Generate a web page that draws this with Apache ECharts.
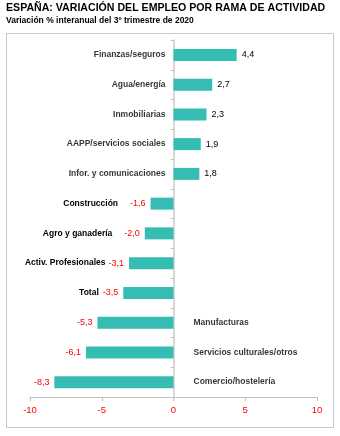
<!DOCTYPE html>
<html><head><meta charset="utf-8">
<script src="https://cdn.jsdelivr.net/npm/echarts@6/dist/echarts.min.js"></script>
<style>html,body{margin:0;padding:0;background:#fff}#c{width:340px;height:436px}</style>
</head><body><div id="c"></div>
<script>
const titleText = 'ESPAÑA: VARIACIÓN DEL EMPLEO POR RAMA DE ACTIVIDAD';
const subtitleText = 'Variación % interanual del 3º trimestre de 2020';
const categories = ['Finanzas/seguros','Agua/energía','Inmobiliarias','AAPP/servicios sociales','Infor. y comunicaciones','Construcción','Agro y ganadería','Activ. Profesionales','Total','Manufacturas','Servicios culturales/otros','Comercio/hostelería'];
const values = [4.4, 2.7, 2.3, 1.9, 1.8, -1.6, -2.0, -3.1, -3.5, -5.3, -6.1, -8.3];
// where the category name sits: 'axisLeft' (left of zero line), 'beforeValue' (left of the negative value label), 'axisRight'
const namePlacement = ['axisLeft','axisLeft','axisLeft','axisLeft','axisLeft','beforeValue','beforeValue','beforeValue','beforeValue','axisRight','axisRight','axisRight'];
const nameGap = [0,0,0,0,0,12,12,3,4,0,0,0];
const xTicks = [-10, -5, 0, 5, 10];

const fmt = v => v.toFixed(1).replace('.', ',');
const FONT = 'Liberation Sans, Arial, sans-serif';

const barData = values.map((v, i) => {
  const neg = v < 0;
  const item = { value: v, label: { show: true, position: neg ? 'left' : 'right', distance: 5 } };
  if (namePlacement[i] === 'beforeValue') {
    item.label.formatter = '{c|' + categories[i] + '}{v|' + fmt(v) + '}';
    item.label.rich = {
      c: { fontFamily: FONT, fontSize: 8.5, fontWeight: 'bold', color: '#000', padding: [0, nameGap[i], 0, 0] },
      v: { fontFamily: FONT, fontSize: 9, color: '#ff0000' }
    };
  } else {
    item.label.formatter = fmt(v);
    item.label.color = neg ? '#ff0000' : '#000';
  }
  return item;
});

const nameData = [];
categories.forEach((c, i) => {
  if (namePlacement[i] === 'axisLeft') nameData.push({ value: [0, c], label: { position: 'left', distance: 8 } });
  else if (namePlacement[i] === 'axisRight') nameData.push({ value: [0, c], label: { position: 'right', distance: 20 } });
});

const chart = echarts.init(document.getElementById('c'), null, { renderer: 'canvas' });
chart.setOption({
  animation: false,
  textStyle: { fontFamily: FONT },
  title: [
    { text: titleText, left: 6, top: 3, padding: 0, textStyle: { fontFamily: FONT, fontSize: 10.6, fontWeight: 'bold', color: '#000' } },
    { text: subtitleText, left: 6, top: 16, padding: 0, textStyle: { fontFamily: FONT, fontSize: 8.5, fontWeight: 'bold', color: '#000' } }
  ],
  graphic: [{ type: 'rect', shape: { x: 6.5, y: 33.5, width: 327, height: 394 }, style: { fill: 'none', stroke: '#c8c8c8', lineWidth: 1 }, z: -1 }],
  grid: { left: 30, right: 23, top: 40, bottom: 39 },
  xAxis: {
    type: 'value', min: -10, max: 10, interval: 5,
    splitLine: { show: false },
    axisLine: { show: true, lineStyle: { color: '#bfbfbf', width: 1 } },
    axisTick: { show: true, length: 4, lineStyle: { color: '#bfbfbf' } },
    axisLabel: { color: '#ff0000', fontSize: 9.5, margin: 8, fontFamily: FONT,
      customValues: xTicks, formatter: v => String(v) }
  },
  yAxis: {
    type: 'category', data: categories, inverse: true,
    axisLine: { show: true, onZero: true, lineStyle: { color: '#d9d9d9', width: 2 } },
    axisTick: { show: true, length: 3, lineStyle: { color: '#c0c0c0' } },
    axisLabel: { show: false }
  },
  series: [
    { type: 'bar', data: barData, barWidth: 12,
      itemStyle: { color: '#36bdb3' },
      label: { fontFamily: FONT, fontSize: 9 } },
    { type: 'scatter', data: nameData, symbolSize: 0, silent: true,
      label: { show: true, formatter: p => p.value[1], fontFamily: FONT, fontSize: 8.5, fontWeight: 'bold', color: '#000' } }
  ]
});
</script></body></html>
